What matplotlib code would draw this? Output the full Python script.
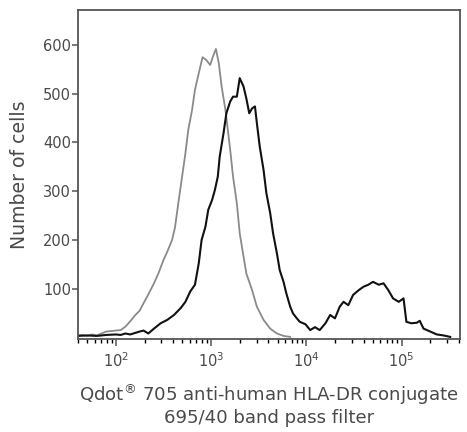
import numpy as np
import matplotlib
matplotlib.use("Agg")
import matplotlib.pyplot as plt

# Isotype control histogram (log10 fluorescence, cell count)
control_log = [1.60, 1.65, 1.70, 1.75, 1.80, 1.85, 1.90, 1.95, 2.00, 2.05, 2.10, 2.15,
               2.20, 2.25, 2.29, 2.34, 2.40, 2.45, 2.50, 2.54, 2.59, 2.62, 2.66, 2.69,
               2.73, 2.76, 2.80, 2.83, 2.87, 2.91, 2.95, 2.99, 3.02, 3.05, 3.08, 3.11,
               3.15, 3.20, 3.23, 3.27, 3.30, 3.34, 3.37, 3.43, 3.48, 3.55, 3.62, 3.69,
               3.76, 3.83]
control_counts = [4, 5, 3, 6, 4, 8, 12, 13, 14, 15, 22, 33,
                  45, 55, 70, 88, 111, 133, 159, 176, 200, 225, 282, 323,
                  378, 426, 467, 508, 542, 575, 569, 559, 577, 592, 563, 515,
                  467, 385, 330, 275, 214, 166, 131, 97, 63, 36, 18, 8,
                  3, 1]

# HLA-DR stained histogram (log10 fluorescence, cell count)
stained_log = [1.60, 1.70, 1.80, 1.90, 2.00, 2.05, 2.10, 2.15, 2.20, 2.25, 2.29, 2.34,
               2.40, 2.47, 2.54, 2.61, 2.68, 2.73, 2.78, 2.83, 2.87, 2.90, 2.94, 2.97,
               3.01, 3.04, 3.07, 3.09, 3.13, 3.16, 3.20, 3.23, 3.27, 3.30, 3.34, 3.37,
               3.40, 3.43, 3.46, 3.48, 3.51, 3.55, 3.58, 3.62, 3.65, 3.69, 3.72, 3.76,
               3.79, 3.83, 3.86, 3.90, 3.93, 3.99, 4.04, 4.09, 4.14, 4.20, 4.25, 4.30,
               4.35, 4.39, 4.44, 4.49, 4.55, 4.60, 4.65, 4.70, 4.76, 4.81, 4.86, 4.91,
               4.97, 5.02, 5.05, 5.10, 5.16, 5.19, 5.23, 5.30, 5.37, 5.44, 5.51]
stained_counts = [3, 4, 3, 5, 6, 5, 8, 6, 9, 12, 14, 8,
                  18, 29, 36, 46, 60, 73, 94, 108, 152, 200, 227, 262,
                  282, 303, 330, 371, 419, 460, 484, 494, 494, 532, 515, 490,
                  460, 470, 474, 440, 392, 344, 296, 255, 214, 173, 138, 114,
                  90, 63, 49, 39, 32, 27, 15, 21, 15, 29, 46, 39,
                  63, 73, 66, 87, 97, 104, 108, 114, 108, 111, 97, 80,
                  73, 80, 32, 29, 30, 34, 18, 12, 6, 4, 1]

y_ticks = [100, 200, 300, 400, 500, 600]
x_label = "Qdot$^{®}$ 705 anti-human HLA-DR conjugate\n695/40 band pass filter"
y_label = "Number of cells"

text_color = "#4a4a4a"
plt.rcParams["font.family"] = ["DejaVu Sans"]

fig = plt.figure(figsize=(4.67, 4.32), dpi=100)
ax = fig.add_axes([0.167, 0.2153, 0.818, 0.7617])

ax.plot(10 ** np.array(control_log), control_counts, color="#8a8a8a", lw=1.3)
ax.plot(10 ** np.array(stained_log), stained_counts, color="#111111", lw=1.5)

ax.set_xscale("log")
ax.set_xlim(40, 4.1e5)
ax.set_ylim(-3.3, 672)
ax.set_yticks(y_ticks)
ax.set_xticks([1e2, 1e3, 1e4, 1e5])

for s in ax.spines.values():
    s.set_color("#555555")
    s.set_linewidth(1.3)

ax.tick_params(axis="both", colors="#555555", labelcolor=text_color, labelsize=10.5,
               width=1.1, direction="out")
ax.tick_params(axis="x", which="major", length=5, pad=4)
ax.tick_params(axis="x", which="minor", length=3, width=1.0)
ax.tick_params(axis="y", length=4, pad=1)

ax.set_xlabel(x_label, fontsize=13.1, color=text_color, labelpad=9, linespacing=1.12)
ax.set_ylabel(y_label, fontsize=13.6, color=text_color, labelpad=10)

fig.savefig("out.png", dpi=100)
